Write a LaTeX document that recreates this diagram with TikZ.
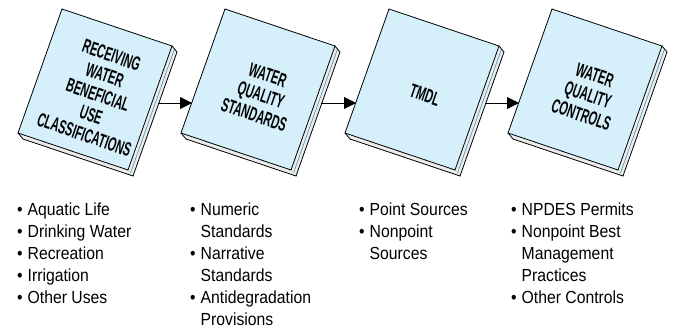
\documentclass[tikz,border=0pt]{standalone}
\usepackage{fontspec}
\newfontfamily\boxfont[FakeStretch=0.56]{Liberation Sans Bold}
\newfontfamily\listfont[FakeStretch=0.9]{Liberation Sans}
\usetikzlibrary{arrows.meta}
\definecolor{facefill}{RGB}{214,240,251}
\definecolor{pageline}{RGB}{60,150,180}
\tikzset
{
    booktext/.style  = {align=center, rotate=-19, inner sep=0pt, font=\boxfont\fontsize{19.5}{21}\selectfont},
    itemlist/.style  = {anchor=base west, inner sep=0pt, font=\listfont\fontsize{17.5}{22}\selectfont},
    flowarrow/.style = {-{Triangle[length=12pt,width=12pt]}, line width=0.8pt},
    book/.pic = {
        \fill[gray!15] (110,37) -- (115,43) -- (71,167) -- (-39,130) -- (-44,124) -- (66,161) -- cycle;
        \draw[pageline, line width=0.6pt] (112.5,40) -- (68.5,164);
        \draw[line width=0.8pt] (110,37) -- (115,43) -- (71,167) -- (-39,130) -- (-44,124);
        \draw[line width=0.8pt, fill=facefill] (0,0) -- (110,37) -- (66,161) -- (-44,124) -- cycle;
        \coordinate (-east) at (96,94);
        \coordinate (-west) at (-33,94);
        \node [booktext] (-label) at (36,86) {#1};
    }
}

\begin{document}
\begin{tikzpicture}[x=1pt, y=-1pt]
\useasboundingbox (0,0) rectangle (675,330);
\pic (recv) at (62,9)  {book={RECEIVING\\WATER\\BENEFICIAL\\USE\\CLASSIFICATIONS}};
\pic (stds) at (225,9) {book={WATER\\QUALITY\\STANDARDS}};
\pic (tmdl) at (389,9) {book={TMDL}};
\pic (ctrl) at (552,9) {book={WATER\\QUALITY\\CONTROLS}};
\draw [flowarrow] (recv-east) -- (stds-west);
\draw [flowarrow] (stds-east) -- (tmdl-west);
\draw [flowarrow] (tmdl-east) -- (ctrl-west);
\node [itemlist] (uses) at (17,215) {\begin{tabular}[t]{@{}l@{\hspace{5pt}}l@{}}
•&Aquatic Life\\ •&Drinking Water\\ •&Recreation\\ •&Irrigation\\ •&Other Uses\end{tabular}};
\node [itemlist] (criteria) at (190,215) {\begin{tabular}[t]{@{}l@{\hspace{5pt}}l@{}}
•&Numeric\\ &Standards\\ •&Narrative\\ &Standards\\ •&Antidegradation\\ &Provisions\end{tabular}};
\node [itemlist] (sources) at (359,215) {\begin{tabular}[t]{@{}l@{\hspace{5pt}}l@{}}
•&Point Sources\\ •&Nonpoint\\ &Sources\end{tabular}};
\node [itemlist] (controls) at (511,215) {\begin{tabular}[t]{@{}l@{\hspace{5pt}}l@{}}
•&NPDES Permits\\ •&Nonpoint Best\\ &Management\\ &Practices\\ •&Other Controls\end{tabular}};
\end{tikzpicture}
\end{document}
